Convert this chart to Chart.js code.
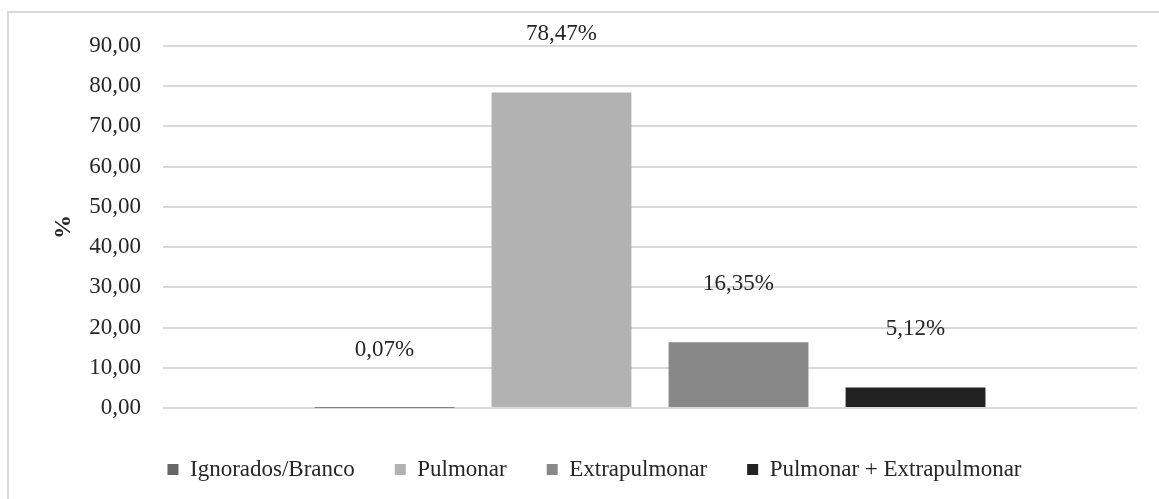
<!DOCTYPE html>
<html>
<head>
<meta charset="utf-8">
<script src="https://cdn.jsdelivr.net/npm/chart.js@4/dist/chart.umd.min.js"></script>
<style>
  html, body { margin: 0; padding: 0; background: #fff; overflow: hidden; }
  #wrap { position: relative; width: 1159px; height: 499px; }
  #frame {
    position: absolute; left: 7px; top: 11px; width: 1170px; height: 500px;
    border: 2px solid #d9d9d9; box-sizing: border-box;
  }
  #chart { position: absolute; left: 0; top: 0; }
</style>
</head>
<body>
<div id="wrap">
  <div id="frame"></div>
  <canvas id="chart" width="1159" height="499"></canvas>
</div>
<script>
// categorias e percentuais
const seriesNames = ["Ignorados/Branco", "Pulmonar", "Extrapulmonar", "Pulmonar + Extrapulmonar"];
const seriesValues = [0.07, 78.47, 16.35, 5.12];
const seriesColors = ["#666666", "#b2b2b2", "#888888", "#222222"];
const yTicks = [0, 10, 20, 30, 40, 50, 60, 70, 80, 90];

const FONT = "'Liberation Serif', 'Times New Roman', serif";
const TEXT = "#262626";

function fmt(v) {
  return v.toFixed(2).replace(".", ",");
}

// rótulo de valor acima de cada barra
const valueLabels = {
  id: "valueLabels",
  afterDatasetsDraw(chart) {
    const ctx = chart.ctx;
    ctx.save();
    ctx.font = "23px " + FONT;
    ctx.fillStyle = TEXT;
    ctx.textAlign = "center";
    ctx.textBaseline = "middle";
    chart.data.datasets.forEach((ds, i) => {
      const bar = chart.getDatasetMeta(i).data[0];
      ctx.fillText(fmt(ds.data[0]) + "%", bar.x, bar.y - 58);
    });
    ctx.restore();
  }
};

// desloca a legenda um pouco para a direita
const legendShift = {
  id: "legendShift",
  afterLayout(chart) {
    const lg = chart.legend;
    if (lg) {
      lg.left += 26;
      lg.right += 26;
    }
  }
};

new Chart(document.getElementById("chart"), {
  type: "bar",
  data: {
    labels: [""],
    datasets: seriesNames.map((name, i) => ({
      label: name,
      data: [seriesValues[i]],
      backgroundColor: seriesColors[i],
      borderWidth: 0,
      categoryPercentage: 0.727,
      barPercentage: 0.79
    }))
  },
  options: {
    responsive: false,
    animation: false,
    layout: { padding: { top: 46, right: 22, bottom: 8, left: 0 } },
    plugins: {
      tooltip: { enabled: false },
      legend: {
        position: "bottom",
        labels: {
          font: { family: FONT, size: 23 },
          color: TEXT,
          boxWidth: 11,
          boxHeight: 11,
          padding: 40
        }
      }
    },
    scales: {
      x: {
        grid: { display: false },
        border: { display: false },
        ticks: { display: false },
        afterFit(s) { s.height = 10; }
      },
      y: {
        min: 0,
        max: 90,
        afterBuildTicks(s) { s.ticks = yTicks.map(v => ({ value: v })); },
        grid: { color: "#d9d9d9", lineWidth: 2, drawTicks: false },
        border: { display: false },
        ticks: {
          font: { family: FONT, size: 23 },
          color: TEXT,
          padding: 22,
          callback: v => fmt(v)
        },
        title: {
          display: true,
          text: "%",
          font: { family: FONT, size: 24, weight: "bold" },
          color: TEXT,
          padding: { top: 49, bottom: 0 }
        },
        afterFit(s) { s.width = 163; }
      }
    }
  },
  plugins: [valueLabels, legendShift]
});
</script>
</body>
</html>
